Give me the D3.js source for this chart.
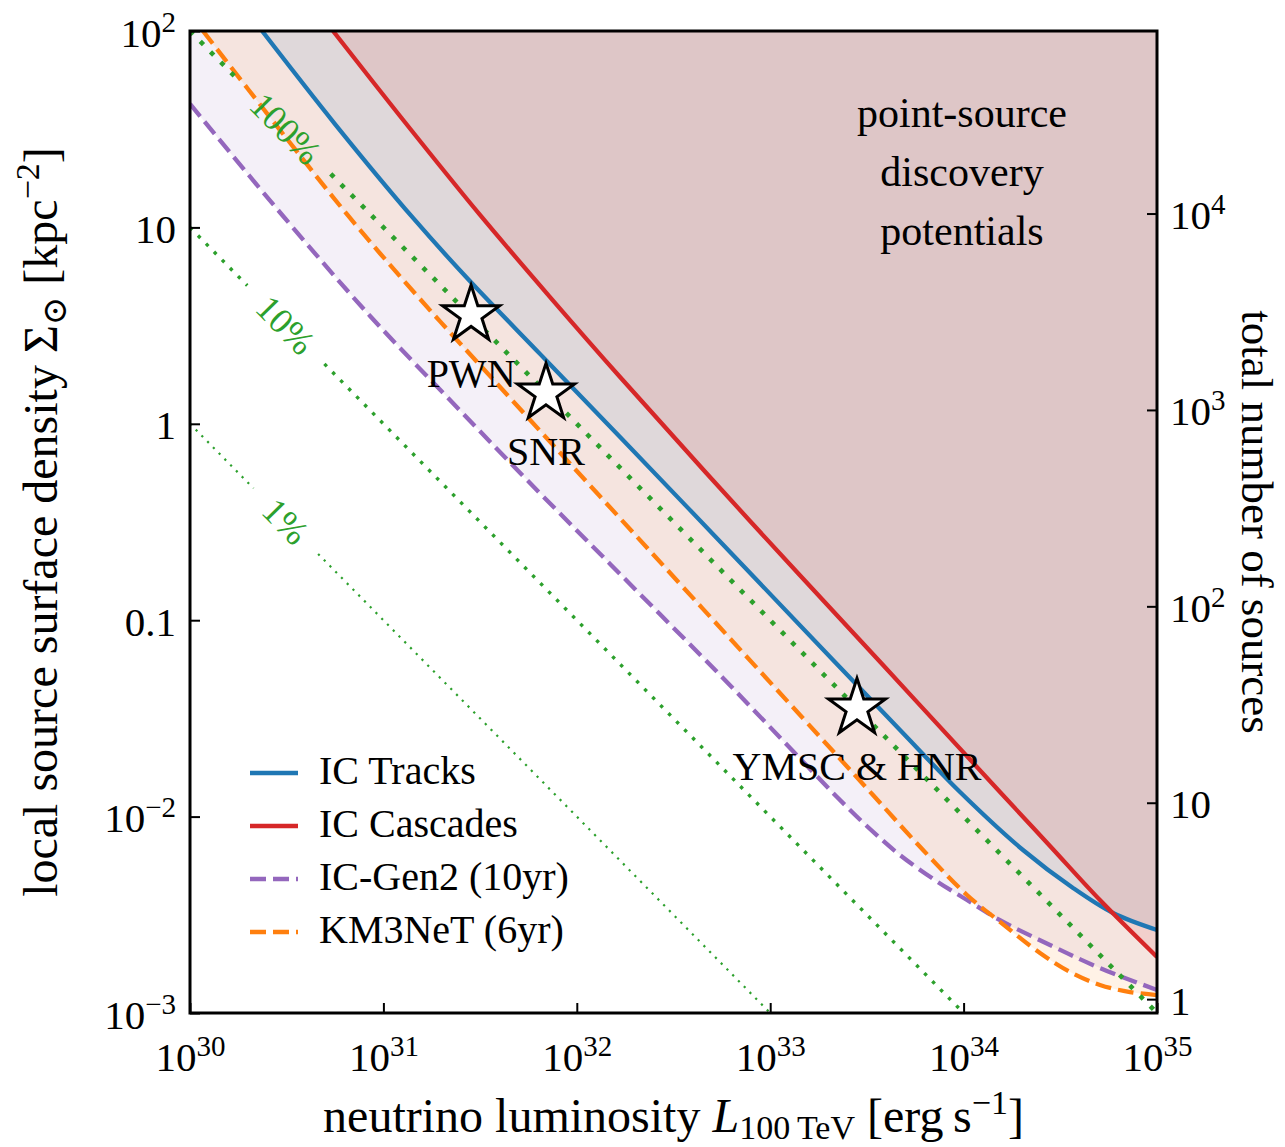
<!DOCTYPE html>
<html>
<head>
<meta charset="utf-8">
<script src="https://cdn.jsdelivr.net/npm/d3@7"></script>
<style>
  html, body { margin: 0; padding: 0; background: #fff; }
  svg { display: block; font-family: "Liberation Serif", "DejaVu Serif", serif; }
</style>
</head>
<body>
<svg id="chart" width="1285" height="1147"></svg>
<script>
// Luminosity L (erg/s) at 100 TeV vs. local source surface density (kpc^-2)

const lumTicks = [1e30, 1e31, 1e32, 1e33, 1e34, 1e35];
const lumTickExp = ["30", "31", "32", "33", "34", "35"];

const sigmaTicks = [1e-3, 1e-2, 0.1, 1, 10, 100];
const sigmaTickBase = ["10", "10", "0.1", "1", "10", "10"];
const sigmaTickExp = ["\u22123", "\u22122", "", "", "", "2"];

const countTicks = [1, 10, 100, 1000, 10000];
const countTickBase = ["1", "10", "10", "10", "10"];
const countTickExp = ["", "", "2", "3", "4"];

// total number of sources per unit local surface density (kpc^2)
const sourcesPerSigma = 850;

// discovery-potential curves
const icTracksL     = [2.36e30, 5.62e30, 1.423e31, 2.737e31, 6.45e31, 1.673e32, 6.20e32, 2.112e33, 4.69e33, 9.58e33, 2.028e34, 3.68e34, 5.92e34, 1e35];
const icTracksSigma = [100, 33.6, 11.17, 5.46, 2.27, 0.857, 0.2225, 0.0627, 0.0276, 0.01334, 0.00676, 0.00433, 0.00323, 0.002646];

const icCascadesL     = [5.49e30, 1.218e31, 3.159e31, 7.27e31, 1.673e32, 7.86e32, 3.83e33, 1.542e34, 2.797e34, 5.07e34, 1e35];
const icCascadesSigma = [100, 36.9, 11.57, 4.42, 1.731, 0.320, 0.0591, 0.01334, 0.00709, 0.00376, 0.00193];

const gen2L     = [1e30, 3.027e30, 8.53e30, 2.21e31, 5.53e31, 1.673e32, 5.50e32, 1.266e33, 2.215e33, 3.281e33, 4.69e33, 7.11e33, 1.041e34, 1.542e34, 2.797e34, 5.07e34, 1e35];
const gen2Sigma = [42.5, 11.43, 3.54, 1.322, 0.5173, 0.1719, 0.0526, 0.02235, 0.01258, 0.00865, 0.00637, 0.00475, 0.00376, 0.00297, 0.00222, 0.001694, 0.00131];

const km3netL     = [1.167e30, 2.92e30, 6.72e30, 1.546e31, 4.01e31, 2.39e32, 1.426e33, 3.40e33, 6.17e33, 1.041e34, 1.542e34, 2.483e34, 3.55e34, 5.07e34, 7.25e34, 1e35];
const km3netSigma = [100, 31.3, 11.17, 4.32, 1.539, 0.2251, 0.0329, 0.01288, 0.00676, 0.00399, 0.00291, 0.00202, 0.001618, 0.001389, 0.001279, 0.001234];

// lines of constant fraction of the diffuse flux: Sigma at L = 1e30 and at L = 1e35
const fractionLabels = ["100%", "10%", "1%"];
const fractionSigmaStart = [100, 10, 1];
const fractionSigmaEnd = [1e-3, 1e-4, 1e-5];
const fractionLabelL = 3.13e30;

// source classes
const sourceNames = ["PWN", "SNR", "YMSC & HNR"];
const sourceL = [2.84e31, 6.93e31, 2.81e33];
const sourceSigma = [3.58, 1.43, 0.0356];

// ---------------------------------------------------------------
const svg = d3.select("#chart");
const X0 = 190, X1 = 1157, Y0 = 31, Y1 = 1013;

const x = d3.scaleLog().domain([1e30, 1e35]).range([X0, X1]);
const y = d3.scaleLog().domain([1e-3, 1e2]).range([Y1, Y0]);
const yN = d3.scaleLog().domain([1e-3 * sourcesPerSigma, 1e2 * sourcesPerSigma]).range([Y1, Y0]);

svg.append("defs").append("clipPath").attr("id", "plot-clip")
  .append("rect").attr("x", X0).attr("y", Y0).attr("width", X1 - X0).attr("height", Y1 - Y0);

const plot = svg.append("g").attr("clip-path", "url(#plot-clip)");

const series = [
  { name: "IC Tracks", L: icTracksL, S: icTracksSigma, color: "#1f77b4", dash: null },
  { name: "IC Cascades", L: icCascadesL, S: icCascadesSigma, color: "#d62728", dash: null },
  { name: "IC-Gen2 (10yr)", L: gen2L, S: gen2Sigma, color: "#9467bd", dash: "16,7" },
  { name: "KM3NeT (6yr)", L: km3netL, S: km3netSigma, color: "#ff7f0e", dash: "16,7" }
];
series.forEach(s => { s.pts = s.L.map((l, i) => [l, s.S[i]]); });

const smooth = d3.curveCatmullRom.alpha(0.5);
const area = d3.area()
  .x(d => x(d[0])).y0(y(1e2)).y1(d => y(d[1]))
  .curve(smooth);
const line = d3.line()
  .x(d => x(d[0])).y(d => y(d[1]))
  .curve(smooth);

// shaded regions above each discovery potential
[2, 3, 0, 1].forEach(i => {
  const s = series[i];
  plot.append("path").attr("d", area(s.pts))
    .attr("fill", s.color).attr("fill-opacity", 0.1).attr("stroke", "none");
});

// curves
series.forEach(s => {
  plot.append("path").attr("d", line(s.pts))
    .attr("fill", "none").attr("stroke", s.color).attr("stroke-width", 4.3)
    .attr("stroke-dasharray", s.dash);
});

// constant-fraction lines with inline labels
const fracStyles = [
  { w: 4.6, dash: "4.6,10" },
  { w: 3.4, dash: "3.4,8" },
  { w: 2.2, dash: "2.2,6" }
];
const green = "#2ca02c";
fractionLabels.forEach((lab, i) => {
  const p0 = [x(1e30), y(fractionSigmaStart[i])];
  const p1 = [x(1e35), y(fractionSigmaEnd[i])];
  const dx = p1[0] - p0[0], dy = p1[1] - p0[1];
  const len = Math.hypot(dx, dy);
  const ux = dx / len, uy = dy / len;
  const t = (x(fractionLabelL) - p0[0]) / dx;
  const c = [p0[0] + t * dx, p0[1] + t * dy];
  const angle = Math.atan2(dy, dx) * 180 / Math.PI;

  const txt = svg.append("text")
    .attr("transform", `translate(${c[0]},${c[1]}) rotate(${angle})`)
    .attr("text-anchor", "middle").attr("dy", "0.35em")
    .attr("font-size", 36).attr("fill", green).text(lab);
  const half = txt.node().getComputedTextLength() / 2 + 22;

  const segs = [
    [p0, [c[0] - ux * half, c[1] - uy * half]],
    [[c[0] + ux * half, c[1] + uy * half], p1]
  ];
  segs.forEach(sg => {
    plot.append("line")
      .attr("x1", sg[0][0]).attr("y1", sg[0][1]).attr("x2", sg[1][0]).attr("y2", sg[1][1])
      .attr("stroke", green).attr("stroke-width", fracStyles[i].w)
      .attr("stroke-dasharray", fracStyles[i].dash);
  });
});

// source classes
const star = d3.symbol().type(d3.symbolStar).size(1010);
sourceNames.forEach((name, i) => {
  const cx = x(sourceL[i]), cy = y(sourceSigma[i]);
  svg.append("path").attr("d", star())
    .attr("transform", `translate(${cx},${cy})`)
    .attr("fill", "#fff").attr("stroke", "#000").attr("stroke-width", 3)
    .attr("stroke-linejoin", "miter");
  svg.append("text").attr("x", cx).attr("y", cy + 72)
    .attr("text-anchor", "middle").attr("font-size", 40).attr("fill", "#000")
    .text(name);
});

// annotation
["point-source", "discovery", "potentials"].forEach((t, i) => {
  svg.append("text").attr("x", 962).attr("y", 127 + 59 * i)
    .attr("text-anchor", "middle").attr("font-size", 42).attr("fill", "#000").text(t);
});

// legend
series.forEach((s, i) => {
  const ly = 773 + 53 * i;
  svg.append("line").attr("x1", 250).attr("x2", 298).attr("y1", ly).attr("y2", ly)
    .attr("stroke", s.color).attr("stroke-width", 4.3)
    .attr("stroke-dasharray", s.dash);
  svg.append("text").attr("x", 319).attr("y", ly + 11)
    .attr("font-size", 40).attr("fill", "#000").text(s.name);
});

// axes
function label(textNode, base, exp) {
  const t = d3.select(textNode);
  t.text(null);
  t.append("tspan").text(base);
  if (exp) t.append("tspan").attr("dy", -15).attr("font-size", 29).text(exp);
}

const gx = svg.append("g").attr("transform", `translate(0,${Y1})`)
  .call(d3.axisBottom(x).tickValues(lumTicks).tickSizeInner(-10).tickSizeOuter(0)
    .tickPadding(58).tickFormat(() => ""));
gx.selectAll(".tick text").attr("dy", null)
  .each(function (d) { const i = lumTicks.indexOf(d); label(this, "10", lumTickExp[i]); });

const gy = svg.append("g").attr("transform", `translate(${X0},0)`)
  .call(d3.axisLeft(y).tickValues(sigmaTicks).tickSizeInner(-10).tickSizeOuter(0)
    .tickPadding(14).tickFormat(() => ""));
gy.selectAll(".tick text").attr("dy", 15)
  .each(function (d) { const i = sigmaTicks.indexOf(d); label(this, sigmaTickBase[i], sigmaTickExp[i]); });

const gr = svg.append("g").attr("transform", `translate(${X1},0)`)
  .call(d3.axisRight(yN).tickValues(countTicks).tickSizeInner(-10).tickSizeOuter(0)
    .tickPadding(13).tickFormat(() => ""));
gr.selectAll(".tick text").attr("dy", 15)
  .each(function (d) { const i = countTicks.indexOf(d); label(this, countTickBase[i], countTickExp[i]); });

[gx, gy, gr].forEach(g => {
  g.attr("font-family", null).attr("font-size", 41);
  g.select(".domain").remove();
  g.selectAll(".tick text").attr("fill", "#000");
  g.selectAll(".tick line").attr("stroke", "#000").attr("stroke-width", 2);
});

// frame
svg.append("rect").attr("x", X0).attr("y", Y0).attr("width", X1 - X0).attr("height", Y1 - Y0)
  .attr("fill", "none").attr("stroke", "#000").attr("stroke-width", 3);

// axis titles
const xt = svg.append("text").attr("x", (X0 + X1) / 2).attr("y", 1132)
  .attr("text-anchor", "middle").attr("font-size", 48).attr("fill", "#000");
xt.append("tspan").text("neutrino luminosity ");
xt.append("tspan").attr("font-style", "italic").text("L");
xt.append("tspan").attr("font-size", 34).attr("dy", 7).text("100\u2009TeV");
xt.append("tspan").attr("dy", -7).text(" [erg\u2009s");
xt.append("tspan").attr("font-size", 34).attr("dy", -18).text("\u22121");
xt.append("tspan").attr("dy", 18).text("]");

const yt = svg.append("text").attr("transform", `translate(57,${(Y0 + Y1) / 2}) rotate(-90)`)
  .attr("text-anchor", "middle").attr("font-size", 48).attr("fill", "#000");
yt.append("tspan").text("local source surface density \u03A3");
yt.append("tspan").attr("font-size", 34).attr("dy", 9).text("\u2299");
yt.append("tspan").attr("dy", -9).text(" [kpc");
yt.append("tspan").attr("font-size", 34).attr("dy", -18).text("\u22122");
yt.append("tspan").attr("dy", 18).text("]");

svg.append("text").attr("transform", `translate(1242,${(Y0 + Y1) / 2}) rotate(90)`)
  .attr("text-anchor", "middle").attr("font-size", 45).attr("fill", "#000")
  .text("total number of sources");
</script>
</body>
</html>
